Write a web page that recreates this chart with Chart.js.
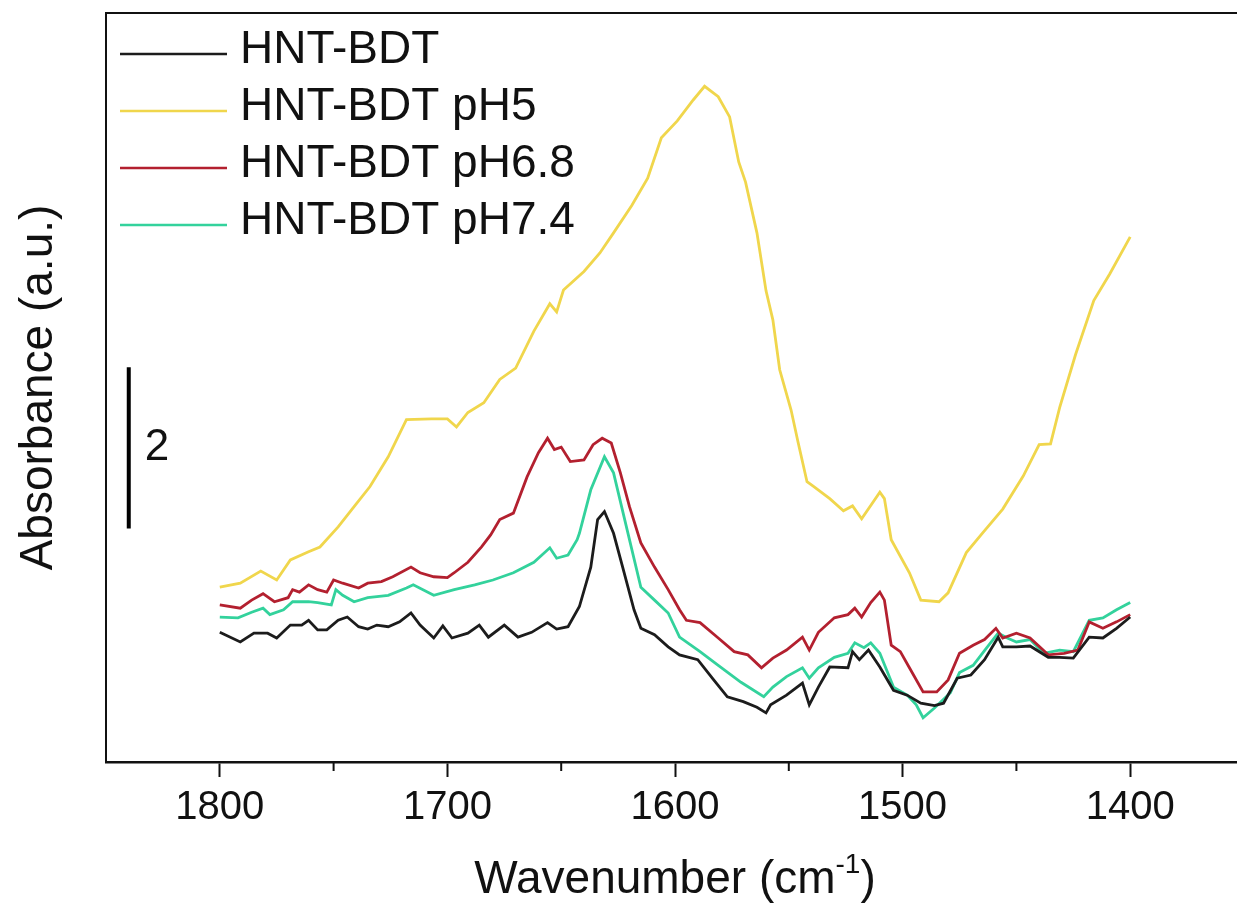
<!DOCTYPE html>
<html>
<head>
<meta charset="utf-8">
<script src="https://cdn.jsdelivr.net/npm/chart.js@4.4.1/dist/chart.umd.min.js"></script>
<style>
  html, body { margin: 0; padding: 0; background: #fff; }
  #wrap { width: 1237px; height: 920px; overflow: hidden; }
  canvas { display: block; }
</style>
</head>
<body>
<div id="wrap"><canvas id="ftir" width="1250" height="920"></canvas></div>
<script>
// wavenumber ticks (cm-1), axis runs high -> low
const xMajorTicks = [1800, 1700, 1600, 1500, 1400];
const xMinorTicks = [1750, 1650, 1550, 1450];

// HNT-BDT
const bdtX = [1800,1791,1785,1779,1775,1769,1764,1761,1757,1753,1748,1744,1739,1735,1731,1726,1721,1716,1712,1706,1702,1698,1691,1686,1682,1675,1669,1663,1656,1652,1647,1642,1637,1634,1631,1627,1623,1618,1615,1609,1603,1598,1590,1583,1577,1570,1564,1560,1558,1551,1544,1541,1537,1532,1524,1522,1519,1515,1510,1504,1498,1492,1486,1482,1476,1470,1464,1458,1456,1450,1444,1436,1431,1425,1418,1412,1406,1400];
const bdtY = [1.61,1.49,1.60,1.60,1.54,1.70,1.70,1.76,1.64,1.64,1.76,1.80,1.68,1.65,1.70,1.68,1.74,1.85,1.70,1.54,1.69,1.54,1.60,1.70,1.55,1.70,1.55,1.61,1.73,1.65,1.68,1.93,2.42,3.01,3.11,2.84,2.42,1.89,1.66,1.58,1.43,1.33,1.27,1.02,0.81,0.75,0.68,0.61,0.71,0.83,0.98,0.71,0.93,1.18,1.17,1.37,1.27,1.39,1.18,0.89,0.83,0.73,0.70,0.73,1.04,1.08,1.27,1.55,1.43,1.43,1.44,1.30,1.30,1.29,1.55,1.54,1.66,1.80];

// HNT-BDT pH5
const ph5X = [1800,1791,1782,1775,1769,1761,1756,1748,1741,1734,1726,1718,1707,1700,1696,1691,1684,1677,1670,1662,1655,1652,1649,1640,1633,1627,1619,1612,1606,1599,1592,1587,1581,1576,1572,1569,1564,1560,1557,1554,1549,1546,1542,1539,1532,1526,1522,1518,1510,1508,1505,1497,1492,1484,1480,1472,1465,1456,1447,1440,1435,1431,1424,1416,1409,1400];
const ph5Y = [2.17,2.22,2.37,2.26,2.51,2.61,2.67,2.92,3.17,3.42,3.79,4.25,4.26,4.26,4.16,4.34,4.46,4.75,4.89,5.35,5.69,5.59,5.86,6.09,6.32,6.57,6.91,7.25,7.75,7.96,8.22,8.39,8.26,8.01,7.45,7.20,6.57,5.85,5.49,4.87,4.37,3.98,3.48,3.42,3.27,3.12,3.18,3.02,3.35,3.27,2.76,2.35,2.01,1.99,2.10,2.60,2.84,3.14,3.55,3.94,3.95,4.40,5.06,5.73,6.06,6.52];

// HNT-BDT pH6.8
const ph68X = [1800,1791,1786,1781,1776,1770,1768,1765,1761,1757,1753,1750,1746,1739,1735,1729,1724,1716,1712,1706,1700,1697,1691,1685,1681,1677,1671,1665,1660,1656,1653,1650,1646,1640,1636,1632,1628,1624,1620,1615,1609,1603,1598,1595,1589,1581,1574,1568,1562,1557,1551,1544,1541,1537,1530,1524,1521,1518,1514,1510,1508,1505,1501,1497,1491,1485,1480,1475,1469,1464,1459,1456,1450,1444,1436,1429,1423,1418,1412,1406,1400];
const ph68Y = [1.95,1.91,2.01,2.09,1.99,2.04,2.14,2.11,2.20,2.14,2.11,2.26,2.22,2.16,2.22,2.24,2.30,2.42,2.35,2.30,2.29,2.35,2.48,2.67,2.82,3.01,3.09,3.54,3.84,4.02,3.88,3.91,3.73,3.75,3.94,4.02,3.96,3.59,3.17,2.72,2.42,2.14,1.89,1.76,1.73,1.54,1.37,1.33,1.17,1.29,1.39,1.55,1.39,1.61,1.79,1.83,1.91,1.80,1.98,2.11,2.01,1.45,1.37,1.17,0.87,0.87,1.02,1.35,1.45,1.52,1.66,1.54,1.60,1.54,1.33,1.35,1.39,1.74,1.66,1.74,1.83];

// HNT-BDT pH7.4
const ph74X = [1800,1792,1786,1781,1778,1772,1768,1761,1757,1751,1749,1746,1741,1735,1726,1718,1715,1706,1697,1688,1680,1671,1662,1655,1652,1647,1643,1642,1637,1631,1627,1621,1615,1609,1603,1598,1589,1581,1571,1561,1557,1551,1544,1541,1537,1530,1524,1521,1517,1514,1510,1504,1498,1494,1491,1486,1479,1475,1469,1463,1458,1454,1450,1444,1438,1431,1425,1418,1412,1406,1400];
const ph74Y = [1.80,1.79,1.86,1.91,1.83,1.89,1.99,1.99,1.98,1.95,2.14,2.07,1.99,2.04,2.07,2.16,2.20,2.07,2.14,2.20,2.26,2.35,2.48,2.66,2.53,2.57,2.76,2.84,3.38,3.79,3.59,2.88,2.17,2.01,1.85,1.55,1.37,1.20,0.99,0.81,0.93,1.06,1.17,1.04,1.17,1.30,1.35,1.48,1.42,1.48,1.35,0.93,0.83,0.71,0.55,0.67,0.86,1.11,1.20,1.42,1.60,1.54,1.49,1.52,1.35,1.39,1.37,1.76,1.79,1.89,1.98];

// scale bar: 2 absorbance units
const scaleBarAt = 1840;
const scaleBarFrom = 2.9;
const scaleBarTo = 4.9;
const scaleBarLabel = '2';

const FONT = '"Liberation Sans", Arial, Helvetica, sans-serif';
const INK = '#111';

function pairs(xs, ys) {
  return xs.map((x, i) => ({ x, y: ys[i] }));
}

const series = [
  { label: 'HNT-BDT', color: '#1c1c1c', data: pairs(bdtX, bdtY) },
  { label: 'HNT-BDT pH5', color: '#f0d64c', data: pairs(ph5X, ph5Y) },
  { label: 'HNT-BDT pH6.8', color: '#b3202f', data: pairs(ph68X, ph68Y) },
  { label: 'HNT-BDT pH7.4', color: '#33d29c', data: pairs(ph74X, ph74Y) },
];

const framePlugin = {
  id: 'frame',
  afterDraw(chart) {
    const { ctx, chartArea: a, scales } = chart;
    ctx.save();
    ctx.strokeStyle = INK;
    ctx.lineWidth = 2;
    ctx.strokeRect(a.left, a.top, a.right - a.left, a.bottom - a.top);

    // minor ticks
    xMinorTicks.forEach((v) => {
      const px = scales.x.getPixelForValue(v);
      ctx.beginPath();
      ctx.moveTo(px, a.bottom);
      ctx.lineTo(px, a.bottom + 9);
      ctx.stroke();
    });

    // scale bar
    const bx = scales.x.getPixelForValue(scaleBarAt);
    const by1 = scales.y.getPixelForValue(scaleBarFrom);
    const by2 = scales.y.getPixelForValue(scaleBarTo);
    ctx.lineWidth = 4;
    ctx.strokeStyle = '#000';
    ctx.beginPath();
    ctx.moveTo(bx, by1);
    ctx.lineTo(bx, by2);
    ctx.stroke();
    ctx.fillStyle = INK;
    ctx.font = `44px ${FONT}`;
    ctx.textBaseline = 'middle';
    ctx.textAlign = 'left';
    ctx.fillText(scaleBarLabel, bx + 16, (by1 + by2) / 2);

    // legend
    ctx.font = `46px ${FONT}`;
    chart.data.datasets.forEach((ds, i) => {
      const y = 50 + i * 57;
      ctx.strokeStyle = ds.borderColor;
      ctx.lineWidth = 2.5;
      ctx.beginPath();
      ctx.moveTo(120, y + 4);
      ctx.lineTo(227, y + 4);
      ctx.stroke();
      ctx.fillStyle = INK;
      ctx.fillText(ds.label, 240, y);
    });

    // x title with superscript
    const cx = (a.left + a.right) / 2;
    const base = 893;
    const mainFont = `46px ${FONT}`;
    const supFont = `28px ${FONT}`;
    ctx.textBaseline = 'alphabetic';
    ctx.font = mainFont;
    const t1 = 'Wavenumber (cm';
    const t3 = ')';
    const w1 = ctx.measureText(t1).width;
    const w3 = ctx.measureText(t3).width;
    ctx.font = supFont;
    const t2 = '-1';
    const w2 = ctx.measureText(t2).width;
    let x = cx - (w1 + w2 + w3) / 2;
    ctx.font = mainFont;
    ctx.fillText(t1, x, base);
    x += w1;
    ctx.font = supFont;
    ctx.fillText(t2, x, base - 20);
    x += w2;
    ctx.font = mainFont;
    ctx.fillText(t3, x, base);
    ctx.restore();
  },
};

new Chart(document.getElementById('ftir'), {
  type: 'line',
  data: {
    datasets: series.map((s) => ({
      label: s.label,
      data: s.data,
      borderColor: s.color,
      backgroundColor: s.color,
      borderWidth: 2.8,
      pointRadius: 0,
      tension: 0,
      fill: false,
    })),
  },
  options: {
    responsive: false,
    animation: false,
    devicePixelRatio: 1,
    layout: { padding: { top: 13, right: 6, left: 0, bottom: 0 } },
    plugins: {
      legend: { display: false },
      tooltip: { enabled: false },
    },
    scales: {
      x: {
        type: 'linear',
        reverse: true,
        min: 1350,
        max: 1850,
        afterFit: (scale) => { scale.height = 158; },
        afterBuildTicks: (scale) => { scale.ticks = xMajorTicks.map((v) => ({ value: v })); },
        grid: {
          drawOnChartArea: false,
          drawTicks: true,
          tickLength: 15,
          tickWidth: 2,
          tickColor: INK,
        },
        border: { display: true, color: INK, width: 2.5 },
        ticks: {
          color: INK,
          padding: 7,
          maxRotation: 0,
          font: { family: FONT, size: 40 },
          callback: (v) => String(v),
        },
      },
      y: {
        min: 0,
        max: 9.3,
        afterFit: (scale) => { scale.width = 106; },
        grid: { display: false, drawTicks: false },
        border: { display: true, color: INK, width: 2 },
        ticks: { display: false },
        title: {
          display: true,
          text: 'Absorbance (a.u.)',
          color: INK,
          padding: { top: 12, bottom: 0 },
          font: { family: FONT, size: 46 },
        },
      },
    },
  },
  plugins: [framePlugin],
});
</script>
</body>
</html>
